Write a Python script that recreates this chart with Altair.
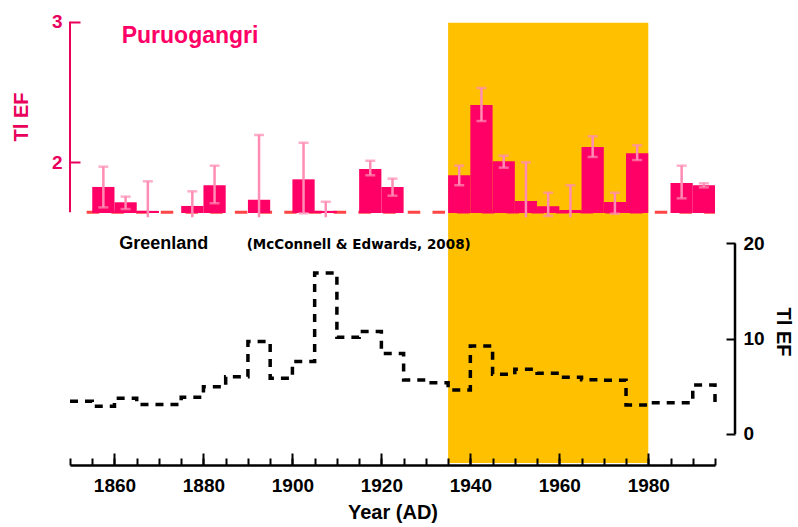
import altair as alt
import pandas as pd

# ---------------- data ----------------
# Puruogangri Tl EF (5-year bins)
bar_start = [1855, 1860, 1865, 1875, 1880, 1890, 1900, 1905, 1915, 1920,
             1935, 1940, 1945, 1950, 1955, 1960, 1965, 1970, 1975, 1985, 1990]
bar_end = [1860, 1865, 1870, 1880, 1885, 1895, 1905, 1910, 1920, 1925,
           1940, 1945, 1950, 1955, 1960, 1965, 1970, 1975, 1980, 1990, 1995]
bar_value = [1.825, 1.716, 1.655, 1.690, 1.837, 1.734, 1.879, 1.655, 1.952, 1.825,
             1.908, 2.407, 2.007, 1.725, 1.688, 1.661, 2.109, 1.718, 2.064, 1.853, 1.837]
err_low = [1.680, 1.668, 1.610, 1.610, 1.709, 1.610, 1.638, 1.610, 1.908, 1.763,
           1.837, 2.293, 1.962, 1.610, 1.619, 1.610, 2.038, 1.635, 2.016, 1.744, 1.822]
err_high = [1.969, 1.756, 1.865, 1.794, 1.976, 2.194, 2.139, 1.720, 2.011, 1.884,
            1.976, 2.528, 2.047, 2.000, 1.784, 1.837, 2.185, 1.784, 2.121, 1.976, 1.851]
bar_base = 1.64          # Tl EF baseline of the bars
clip_floor = 1.612       # lower error ends below this are cut by the axis

# dashed baseline of the upper panel
baseline_value = 1.646
baseline_years = [1853.75, 1995]

# Greenland Tl EF (McConnell & Edwards, 2008), step series
gl_year = [1850, 1855, 1860, 1865, 1870, 1875, 1880, 1885, 1890, 1895,
           1900, 1905, 1910, 1915, 1920, 1925, 1930, 1935, 1940, 1945,
           1950, 1955, 1960, 1965, 1970, 1975, 1980, 1985, 1990, 1995]
gl_value = [3.45, 2.90, 3.75, 3.10, 3.10, 3.85, 4.95, 6.00, 9.70, 5.85,
            7.60, 16.90, 10.15, 10.75, 8.45, 5.67, 5.37, 4.62, 9.24, 6.27,
            6.80, 6.37, 5.95, 5.70, 5.65, 3.04, 3.29, 3.29, 5.14, 3.20]

# highlighted period
band_years = [1935, 1980]

# axes
x_major = [1860, 1880, 1900, 1920, 1940, 1960, 1980]
x_minor = [1850, 1855, 1860, 1865, 1870, 1875, 1880, 1885, 1890, 1895, 1900,
           1905, 1910, 1915, 1920, 1925, 1930, 1935, 1940, 1945, 1950, 1955,
           1960, 1965, 1970, 1975, 1980, 1985, 1990, 1995]
top_ticks = [2, 3]
top_axis_span = [3, 1.645]
bot_ticks = [0, 10, 20]
bot_axis_span = [0, 20]

# ---------------- style ----------------
FONT = "Liberation Sans"
PINK = "#FF0066"
AXIS_PINK = "#E8005C"
ERR = "#FF8CB4"
ORANGE = "#FFC000"
W, H = 645, 445

x_scale = alt.Scale(domain=[1850, 1995], nice=False, zero=False)
top_scale = alt.Scale(domain=[-0.1499, 3.0107], nice=False, zero=False)
bot_scale = alt.Scale(domain=[-3.255, 43.46], nice=False, zero=False)

bars_df = pd.DataFrame({"start": bar_start, "end": bar_end, "value": bar_value,
                        "low": err_low, "high": err_high})
bars_df["mid"] = (bars_df["start"] + bars_df["end"]) / 2
gl_df = pd.DataFrame({"year": gl_year, "value": gl_value})

band = alt.Chart(pd.DataFrame({"x0": [band_years[0]], "x1": [band_years[1]]})).mark_rect(
    color=ORANGE).encode(
    x=alt.X("x0:Q", scale=x_scale, axis=None), x2="x1:Q",
    y=alt.value(2.7), y2=alt.value(H - 2))

baseline = alt.Chart(pd.DataFrame({"x0": [baseline_years[0]], "x1": [baseline_years[1]],
                                   "y": [baseline_value]})).mark_rule(
    color="#FF4545", strokeWidth=3, strokeDash=[12.5, 12.2]).encode(
    x=alt.X("x0:Q", scale=x_scale,
            axis=alt.Axis(orient="bottom", domain=True, domainColor="black", domainWidth=2.5,
                          ticks=False, labels=False, grid=False, title=None, offset=0, zindex=2)),
    x2="x1:Q",
    y=alt.Y("y:Q", scale=top_scale, axis=None))

bars = alt.Chart(bars_df).mark_rect(color=PINK).encode(
    x=alt.X("start:Q", scale=x_scale,
            axis=alt.Axis(orient="bottom", values=x_major, format="d", offset=-12, tickSize=12,
                          tickWidth=2, tickColor="black", domain=False, grid=False,
                          labelFont=FONT, labelFontSize=19, labelFontWeight="bold",
                          labelColor="black", labelPadding=11, title=None, zindex=2)),
    x2="end:Q",
    y=alt.Y("value:Q", scale=top_scale,
            axis=alt.Axis(orient="left", values=top_ticks, offset=-10, tickSize=10, tickWidth=2,
                          tickColor=AXIS_PINK, domain=False, grid=False, labelFont=FONT,
                          labelFontSize=19, labelFontWeight="bold", labelColor=AXIS_PINK,
                          labelPadding=8, title=None, zindex=2)),
    y2=alt.Y2(datum=bar_base))

err_rule = alt.Chart(bars_df).mark_rule(color=ERR, strokeWidth=2.5).encode(
    x=alt.X("mid:Q", scale=x_scale, axis=None),
    y=alt.Y("low:Q", scale=top_scale, axis=None), y2="high:Q")

cap_hi = alt.Chart(bars_df).mark_tick(color=ERR, orient="horizontal", size=10, thickness=2.5).encode(
    x=alt.X("mid:Q", scale=x_scale, axis=None),
    y=alt.Y("high:Q", scale=top_scale, axis=None))

cap_lo = alt.Chart(bars_df).transform_filter(f"datum.low > {clip_floor}").mark_tick(
    color=ERR, orient="horizontal", size=10, thickness=2.5).encode(
    x=alt.X("mid:Q", scale=x_scale, axis=None),
    y=alt.Y("low:Q", scale=top_scale, axis=None))

green = alt.Chart(gl_df).mark_line(interpolate="step-after", color="black", strokeWidth=3.5,
                                   strokeDash=[8, 7]).encode(
    x=alt.X("year:Q", scale=x_scale,
            axis=alt.Axis(orient="bottom", values=x_minor, offset=-7, tickSize=7, tickWidth=2,
                          tickColor="black", labels=False, domain=False, grid=False,
                          title=None, zindex=2)),
    y=alt.Y("value:Q", scale=bot_scale,
            axis=alt.Axis(orient="right", values=bot_ticks, offset=11, tickSize=9, tickWidth=2,
                          tickColor="black", domain=False, grid=False, labelFont=FONT,
                          labelFontSize=19, labelFontWeight="bold", labelColor="black",
                          labelPadding=8, title=None, zindex=2)))

left_line = alt.Chart(pd.DataFrame({"a": [top_axis_span[0]], "b": [top_axis_span[1]]})).mark_rule(
    color=AXIS_PINK, strokeWidth=2).encode(
    x=alt.value(0), y=alt.Y("a:Q", scale=top_scale, axis=None), y2="b:Q")

right_line = alt.Chart(pd.DataFrame({"a": [bot_axis_span[0]], "b": [bot_axis_span[1]]})).mark_rule(
    color="black", strokeWidth=2.5).encode(
    x=alt.value(W + 20), y=alt.Y("a:Q", scale=bot_scale, axis=None), y2="b:Q")


def label(txt, x, y, size, color, angle=0, align="left", baseline="alphabetic", font=FONT):
    kw = dict(align=align, baseline=baseline, font=font, fontSize=size,
              fontWeight="bold", color=color)
    if angle:
        kw["angle"] = angle
    return alt.Chart(pd.DataFrame({"t": [txt]})).mark_text(**kw).encode(
        text="t:N", x=alt.value(x), y=alt.value(y))


texts = [
    label("Puruogangri", 51.7, 23.3, 23, PINK),
    label("Greenland", 49.3, 229.3, 18, "black"),
    label("(McConnell & Edwards, 2008)", 176.7, 229.3, 13.5, "black", font="DejaVu Sans"),
    label("Tl EF", -48, 97, 20, AXIS_PINK, angle=270, align="center", baseline="middle"),
    label("Tl EF", 712.5, 312, 20, "black", angle=90, align="center", baseline="middle"),
    label("Year (AD)", 323, 499, 20, "black", align="center"),
]

chart = alt.layer(
    band, baseline, bars, err_rule, cap_hi, cap_lo, green, left_line, right_line, *texts
).resolve_scale(
    y="independent"
).resolve_axis(
    x="independent", y="independent"
).properties(
    width=W, height=H,
    padding={"left": 70, "top": 20, "right": 83, "bottom": 62},
    autosize=alt.AutoSizeParams(type="none"),
).configure_view(stroke=None)

chart.save("out.html", embed_options={"renderer": "svg", "actions": False})
